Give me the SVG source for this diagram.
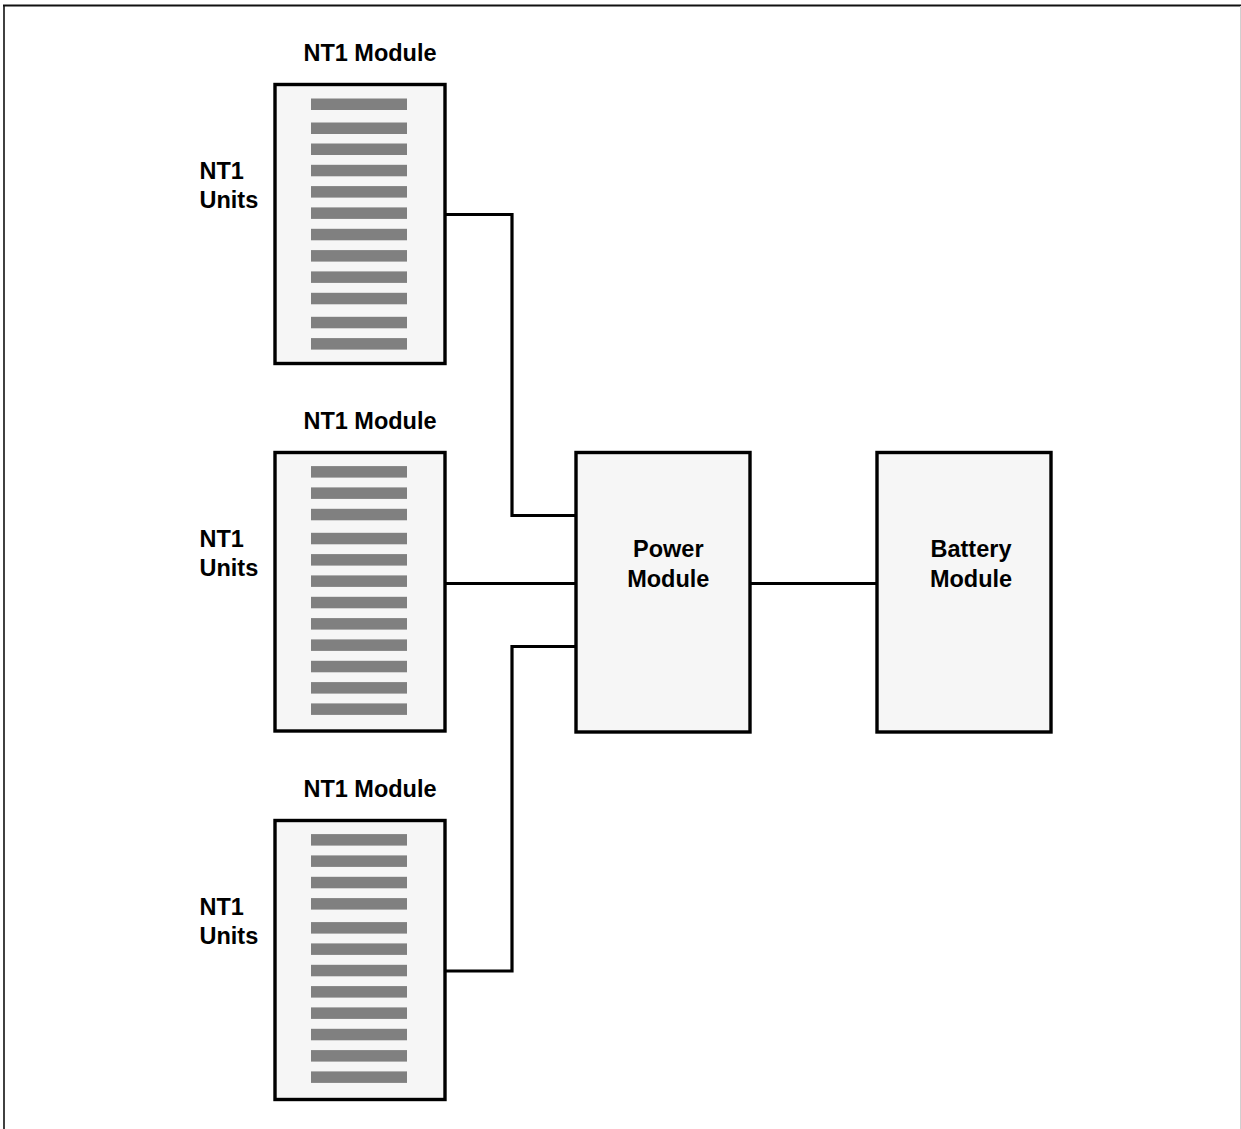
<svg xmlns="http://www.w3.org/2000/svg" width="1241" height="1129" viewBox="0 0 1241 1129">
<style>
  .box{fill:#f6f6f6;stroke:#000;stroke-width:3.4}
  .bar{fill:#808080}
  .lbl{font-family:"Liberation Sans",Arial,sans-serif;font-weight:bold;font-size:23.5px;fill:#000}
  .mid{text-anchor:middle}
  .conn{fill:none;stroke:#000;stroke-width:3.2}
</style>
<rect x="0" y="0" width="1241" height="1129" fill="#fff"/>
<g id="frame">
  <line x1="3" y1="5.5" x2="1241" y2="5.5" stroke="#111" stroke-width="1.8"/>
  <line x1="4" y1="5" x2="4" y2="1129" stroke="#111" stroke-width="1.6"/>
  <line x1="1240.5" y1="6" x2="1240.5" y2="1129" stroke="#d0d0d0" stroke-width="1"/>
</g>
<g id="connectors">
  <path class="conn" d="M445 214.5 H512 V515.5 H576"/>
  <path class="conn" d="M445 583.5 H576"/>
  <path class="conn" d="M445 971 H512 V646.5 H576"/>
  <path class="conn" d="M750 583.5 H877"/>
</g>
<g id="nt1-module-1">
  <text class="lbl mid" x="370" y="61">NT1 Module</text>
  <text class="lbl" x="199.5" y="179">NT1</text>
  <text class="lbl" x="199.5" y="207.5">Units</text>
  <rect class="box" x="275" y="84.5" width="170" height="279"/>
  <rect class="bar" x="311" y="98.5" width="96" height="11.5"/>
  <rect class="bar" x="311" y="122.5" width="96" height="11.5"/>
  <rect class="bar" x="311" y="143.5" width="96" height="11.5"/>
  <rect class="bar" x="311" y="164.8" width="96" height="11.5"/>
  <rect class="bar" x="311" y="186.1" width="96" height="11.5"/>
  <rect class="bar" x="311" y="207.4" width="96" height="11.5"/>
  <rect class="bar" x="311" y="228.8" width="96" height="11.5"/>
  <rect class="bar" x="311" y="250.1" width="96" height="11.5"/>
  <rect class="bar" x="311" y="271.4" width="96" height="11.5"/>
  <rect class="bar" x="311" y="292.8" width="96" height="11.5"/>
  <rect class="bar" x="311" y="316.8" width="96" height="11.5"/>
  <rect class="bar" x="311" y="338.1" width="96" height="11.5"/>
</g>
<g id="nt1-module-2">
  <text class="lbl mid" x="370" y="429.3">NT1 Module</text>
  <text class="lbl" x="199.5" y="547.3">NT1</text>
  <text class="lbl" x="199.5" y="575.8">Units</text>
  <rect class="box" x="275" y="452.5" width="170" height="278.5"/>
  <rect class="bar" x="311" y="466.1" width="96" height="11.5"/>
  <rect class="bar" x="311" y="487.4" width="96" height="11.5"/>
  <rect class="bar" x="311" y="508.8" width="96" height="11.5"/>
  <rect class="bar" x="311" y="532.8" width="96" height="11.5"/>
  <rect class="bar" x="311" y="554.1" width="96" height="11.5"/>
  <rect class="bar" x="311" y="575.4" width="96" height="11.5"/>
  <rect class="bar" x="311" y="596.8" width="96" height="11.5"/>
  <rect class="bar" x="311" y="618.1" width="96" height="11.5"/>
  <rect class="bar" x="311" y="639.4" width="96" height="11.5"/>
  <rect class="bar" x="311" y="660.8" width="96" height="11.5"/>
  <rect class="bar" x="311" y="682.1" width="96" height="11.5"/>
  <rect class="bar" x="311" y="703.4" width="96" height="11.5"/>
</g>
<g id="nt1-module-3">
  <text class="lbl mid" x="370" y="797">NT1 Module</text>
  <text class="lbl" x="199.5" y="915.3">NT1</text>
  <text class="lbl" x="199.5" y="943.8">Units</text>
  <rect class="box" x="275" y="820.5" width="170" height="279"/>
  <rect class="bar" x="311" y="834.1" width="96" height="11.5"/>
  <rect class="bar" x="311" y="855.4" width="96" height="11.5"/>
  <rect class="bar" x="311" y="876.8" width="96" height="11.5"/>
  <rect class="bar" x="311" y="898.1" width="96" height="11.5"/>
  <rect class="bar" x="311" y="922.1" width="96" height="11.5"/>
  <rect class="bar" x="311" y="943.4" width="96" height="11.5"/>
  <rect class="bar" x="311" y="964.8" width="96" height="11.5"/>
  <rect class="bar" x="311" y="986.1" width="96" height="11.5"/>
  <rect class="bar" x="311" y="1007.4" width="96" height="11.5"/>
  <rect class="bar" x="311" y="1028.8" width="96" height="11.5"/>
  <rect class="bar" x="311" y="1050.1" width="96" height="11.5"/>
  <rect class="bar" x="311" y="1071.4" width="96" height="11.5"/>
</g>
<g id="power-module">
  <rect class="box" x="576" y="452.5" width="174" height="279.5"/>
  <text class="lbl mid" x="668.3" y="557.3">Power</text>
  <text class="lbl mid" x="668.3" y="586.7">Module</text>
</g>
<g id="battery-module">
  <rect class="box" x="877" y="452.5" width="174" height="279.5"/>
  <text class="lbl mid" x="971" y="557.3">Battery</text>
  <text class="lbl mid" x="971" y="586.7">Module</text>
</g>
</svg>
